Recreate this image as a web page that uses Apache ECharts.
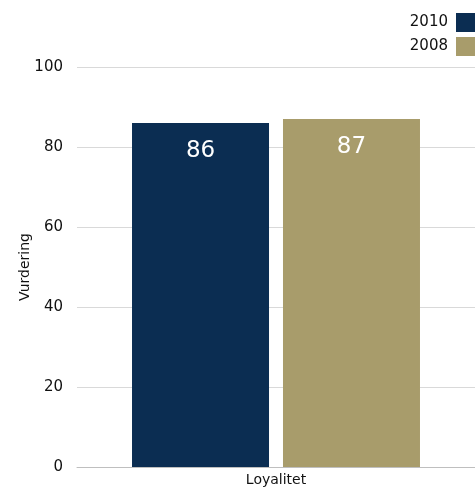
<!DOCTYPE html>
<html><head><meta charset="utf-8">
<script src="https://cdn.jsdelivr.net/npm/echarts@6/dist/echarts.min.js"></script>
<style>html,body{margin:0;padding:0;background:#fff}#c{width:475px;height:491px}</style>
</head><body><div id="c"></div>
<script>
const categories = ['Loyalitet'];
const seriesNames = ['2010', '2008'];
const values2010 = [86];
const values2008 = [87];
const yTicks = [0, 20, 40, 60, 80, 100];
const font = 'DejaVu Sans';
const chart = echarts.init(document.getElementById('c'));
chart.setOption({
  animation: false,
  textStyle: { fontFamily: font },
  legend: {
    orient: 'vertical', right: 0, top: 13, align: 'right', padding: 0,
    icon: 'rect', itemWidth: 19, itemHeight: 19, itemGap: 5,
    textStyle: { fontSize: 15, color: '#111', fontFamily: font, padding: [0, 3, 0, 0] },
    data: seriesNames
  },
  grid: { left: 77, right: 0, top: 67, bottom: 24 },
  xAxis: {
    type: 'category', data: categories,
    axisLine: { lineStyle: { color: '#bfbfbf' } },
    axisTick: { show: false },
    axisLabel: { fontSize: 14, color: '#111', margin: 6, fontFamily: font }
  },
  yAxis: {
    type: 'value', min: yTicks[0], max: yTicks[yTicks.length - 1], interval: 20,
    name: 'Vurdering', nameLocation: 'middle', nameGap: 45, nameMoveOverlap: false,
    nameTextStyle: { fontSize: 14, color: '#111', fontFamily: font },
    axisLine: { show: false }, axisTick: { show: false },
    axisLabel: { fontSize: 15, color: '#111', margin: 14, fontFamily: font },
    splitLine: { lineStyle: { color: '#d9d9d9' } }
  },
  series: [
    { name: seriesNames[0], type: 'bar', data: values2010, barWidth: 137, barGap: '10.2%',
      itemStyle: { color: '#0b2d52' },
      label: { show: true, position: 'insideTop', distance: 17, color: '#fff', fontSize: 23, fontFamily: font } },
    { name: seriesNames[1], type: 'bar', data: values2008, barWidth: 137,
      itemStyle: { color: '#a89c6b' },
      label: { show: true, position: 'insideTop', distance: 17, color: '#fff', fontSize: 23, fontFamily: font } }
  ]
});
</script></body></html>
